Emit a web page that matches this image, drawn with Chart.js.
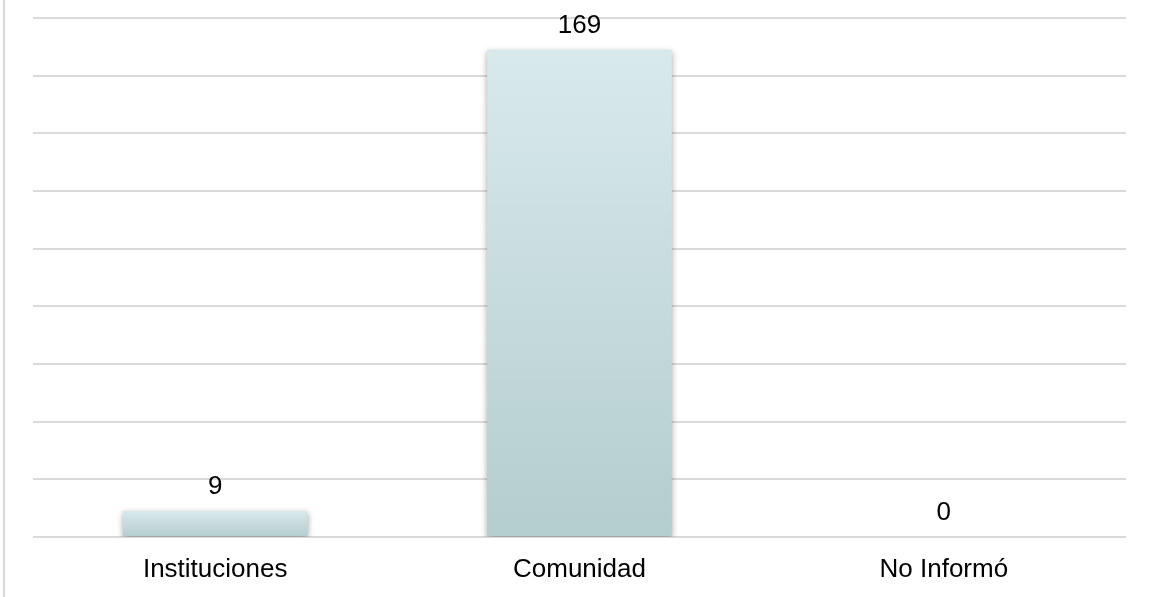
<!DOCTYPE html>
<html>
<head>
<meta charset="utf-8">
<script src="https://cdn.jsdelivr.net/npm/chart.js@4/dist/chart.umd.min.js"></script>
<style>
    html, body { margin: 0; padding: 0; background: #fff; }
    #wrap { position: relative; width: 1151px; height: 597px; }
    #edge { position: absolute; left: 3px; top: 0; width: 2px; height: 597px; background: #d9d9d9; }
    canvas { position: absolute; left: 0; top: 0; }
</style>
</head>
<body>
<div id="wrap">
    <canvas id="chart" width="1151" height="597"></canvas>
    <div id="edge"></div>
</div>
<script>
// data
var categories = ['Instituciones', 'Comunidad', 'No Informó'];
var values = [9, 169, 0];
var yMax = 180;
var yStep = 20;

var fontFamily = '"Liberation Sans", Arial, sans-serif';

// soft shadow behind the bars
var barShadow = {
    id: 'barShadow',
    beforeDatasetsDraw: function (chart) {
        var ctx = chart.ctx;
        ctx.save();
        ctx.shadowColor = 'rgba(0,0,0,0.35)';
        ctx.shadowBlur = 6;
        ctx.shadowOffsetX = 0;
        ctx.shadowOffsetY = 2;
    },
    afterDatasetsDraw: function (chart) {
        chart.ctx.restore();
    }
};

// value labels on top of each bar
var valueLabels = {
    id: 'valueLabels',
    afterDatasetsDraw: function (chart) {
        var ctx = chart.ctx;
        var meta = chart.getDatasetMeta(0);
        ctx.save();
        ctx.font = '26px ' + fontFamily;
        ctx.fillStyle = '#000';
        ctx.textAlign = 'center';
        ctx.textBaseline = 'alphabetic';
        meta.data.forEach(function (bar, i) {
            ctx.fillText(String(values[i]), bar.x, bar.y - 17);
        });
        ctx.restore();
    }
};

var ctx = document.getElementById('chart').getContext('2d');
var chart = new Chart(ctx, {
    type: 'bar',
    data: {
        labels: categories,
        datasets: [{
            data: values,
            // each bar gets its own top-to-bottom gradient
            backgroundColor: function (c) {
                var y = c.chart.scales.y;
                if (!y || c.dataIndex === undefined) return '#c8dddf';
                var top = y.getPixelForValue(values[c.dataIndex]);
                var bottom = y.getPixelForValue(0);
                if (!isFinite(top) || bottom - top < 1) return '#c8dddf';
                var g = c.chart.ctx.createLinearGradient(0, top, 0, bottom);
                g.addColorStop(0, '#d8e9eb');
                g.addColorStop(1, '#b4cdcf');
                return g;
            },
            borderWidth: 0,
            barPercentage: 0.507,
            categoryPercentage: 1
        }]
    },
    options: {
        responsive: false,
        animation: false,
        layout: { padding: { left: 33, right: 25, top: 18, bottom: 0 } },
        plugins: {
            legend: { display: false },
            tooltip: { enabled: false }
        },
        scales: {
            x: {
                grid: { display: false },
                border: { display: false },
                ticks: {
                    color: '#000',
                    padding: 9,
                    font: { family: fontFamily, size: 26 }
                },
                afterFit: function (scale) { scale.height = 60; }
            },
            y: {
                min: 0,
                max: yMax,
                ticks: { stepSize: yStep, display: false },
                grid: { color: '#dadada', lineWidth: 2, drawTicks: false },
                border: { display: false },
                afterFit: function (scale) { scale.width = 0; }
            }
        }
    },
    plugins: [barShadow, valueLabels]
});
</script>
</body>
</html>
